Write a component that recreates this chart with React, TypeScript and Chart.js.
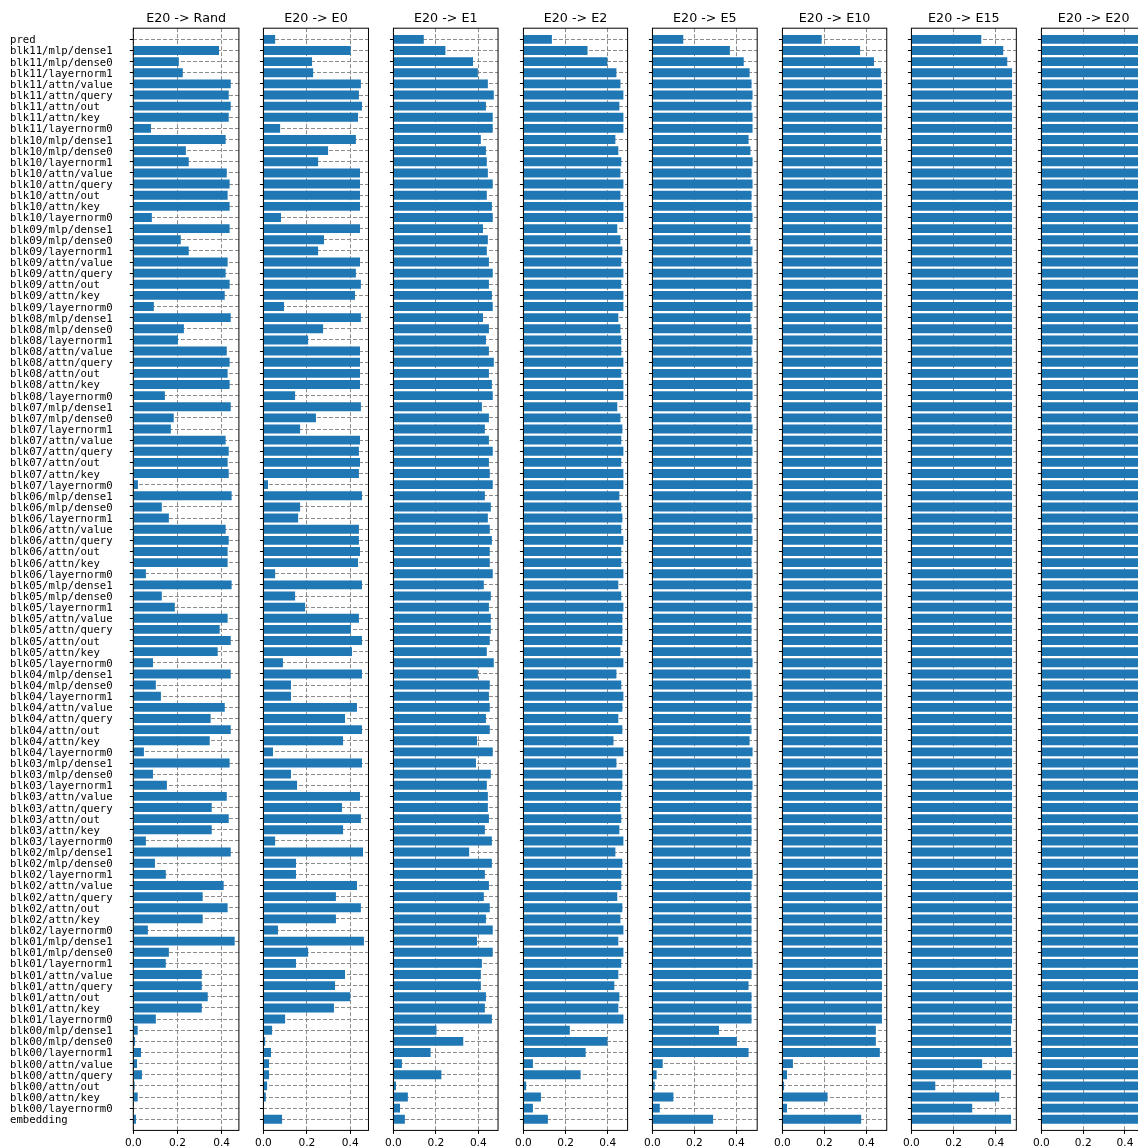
import React, { useEffect, useRef } from "react";
import { Chart, registerables } from "chart.js";

Chart.register(...registerables);

const CATEGORIES = [
  "pred",
  "blk11/mlp/dense1", "blk11/mlp/dense0", "blk11/layernorm1", "blk11/attn/value", "blk11/attn/query", "blk11/attn/out", "blk11/attn/key", "blk11/layernorm0",
  "blk10/mlp/dense1", "blk10/mlp/dense0", "blk10/layernorm1", "blk10/attn/value", "blk10/attn/query", "blk10/attn/out", "blk10/attn/key", "blk10/layernorm0",
  "blk09/mlp/dense1", "blk09/mlp/dense0", "blk09/layernorm1", "blk09/attn/value", "blk09/attn/query", "blk09/attn/out", "blk09/attn/key", "blk09/layernorm0",
  "blk08/mlp/dense1", "blk08/mlp/dense0", "blk08/layernorm1", "blk08/attn/value", "blk08/attn/query", "blk08/attn/out", "blk08/attn/key", "blk08/layernorm0",
  "blk07/mlp/dense1", "blk07/mlp/dense0", "blk07/layernorm1", "blk07/attn/value", "blk07/attn/query", "blk07/attn/out", "blk07/attn/key", "blk07/layernorm0",
  "blk06/mlp/dense1", "blk06/mlp/dense0", "blk06/layernorm1", "blk06/attn/value", "blk06/attn/query", "blk06/attn/out", "blk06/attn/key", "blk06/layernorm0",
  "blk05/mlp/dense1", "blk05/mlp/dense0", "blk05/layernorm1", "blk05/attn/value", "blk05/attn/query", "blk05/attn/out", "blk05/attn/key", "blk05/layernorm0",
  "blk04/mlp/dense1", "blk04/mlp/dense0", "blk04/layernorm1", "blk04/attn/value", "blk04/attn/query", "blk04/attn/out", "blk04/attn/key", "blk04/layernorm0",
  "blk03/mlp/dense1", "blk03/mlp/dense0", "blk03/layernorm1", "blk03/attn/value", "blk03/attn/query", "blk03/attn/out", "blk03/attn/key", "blk03/layernorm0",
  "blk02/mlp/dense1", "blk02/mlp/dense0", "blk02/layernorm1", "blk02/attn/value", "blk02/attn/query", "blk02/attn/out", "blk02/attn/key", "blk02/layernorm0",
  "blk01/mlp/dense1", "blk01/mlp/dense0", "blk01/layernorm1", "blk01/attn/value", "blk01/attn/query", "blk01/attn/out", "blk01/attn/key", "blk01/layernorm0",
  "blk00/mlp/dense1", "blk00/mlp/dense0", "blk00/layernorm1", "blk00/attn/value", "blk00/attn/query", "blk00/attn/out", "blk00/attn/key", "blk00/layernorm0",
  "embedding",
];

const PANEL_TITLES = [
  "E20 -> Rand", "E20 -> E0", "E20 -> E1", "E20 -> E2",
  "E20 -> E5", "E20 -> E10", "E20 -> E15", "E20 -> E20",
];

const RAND = [
  0.0,
  0.388, 0.206, 0.224, 0.441, 0.432, 0.441, 0.432, 0.080,
  0.418, 0.238, 0.251, 0.423, 0.436, 0.427, 0.436, 0.084,
  0.436, 0.215, 0.251, 0.427, 0.418, 0.436, 0.414, 0.093,
  0.441, 0.229, 0.202, 0.423, 0.436, 0.427, 0.436, 0.143,
  0.441, 0.183, 0.170, 0.418, 0.432, 0.427, 0.432, 0.021,
  0.445, 0.129, 0.161, 0.418, 0.432, 0.427, 0.427, 0.057,
  0.445, 0.129, 0.188, 0.427, 0.391, 0.441, 0.382, 0.089,
  0.441, 0.102, 0.125, 0.414, 0.350, 0.441, 0.346, 0.048,
  0.436, 0.089, 0.152, 0.423, 0.355, 0.432, 0.355, 0.057,
  0.441, 0.098, 0.147, 0.409, 0.314, 0.427, 0.314, 0.066,
  0.459, 0.161, 0.147, 0.310, 0.310, 0.337, 0.310, 0.102,
  0.020, 0.008, 0.035, 0.017, 0.039, 0.006, 0.020, 0.000,
  0.012,
];

const E0 = [
  0.054,
  0.402, 0.224, 0.229, 0.449, 0.440, 0.454, 0.436, 0.077,
  0.426, 0.298, 0.252, 0.445, 0.445, 0.445, 0.445, 0.081,
  0.445, 0.279, 0.252, 0.445, 0.426, 0.449, 0.422, 0.095,
  0.449, 0.275, 0.206, 0.445, 0.445, 0.445, 0.445, 0.146,
  0.449, 0.242, 0.169, 0.445, 0.440, 0.445, 0.440, 0.021,
  0.454, 0.169, 0.160, 0.440, 0.440, 0.445, 0.436, 0.054,
  0.454, 0.146, 0.192, 0.440, 0.403, 0.454, 0.408, 0.090,
  0.454, 0.127, 0.127, 0.431, 0.376, 0.454, 0.367, 0.044,
  0.454, 0.127, 0.155, 0.445, 0.362, 0.449, 0.367, 0.054,
  0.459, 0.150, 0.150, 0.431, 0.334, 0.449, 0.334, 0.067,
  0.463, 0.206, 0.150, 0.376, 0.330, 0.400, 0.325, 0.100,
  0.040, 0.008, 0.035, 0.026, 0.026, 0.017, 0.011, 0.000,
  0.086,
];

const E1 = [
  0.143,
  0.245, 0.375, 0.398, 0.445, 0.473, 0.436, 0.468, 0.468,
  0.412, 0.436, 0.440, 0.445, 0.468, 0.440, 0.464, 0.468,
  0.422, 0.445, 0.440, 0.450, 0.468, 0.450, 0.464, 0.468,
  0.422, 0.450, 0.436, 0.450, 0.473, 0.450, 0.464, 0.468,
  0.417, 0.450, 0.431, 0.450, 0.468, 0.450, 0.454, 0.468,
  0.431, 0.459, 0.445, 0.454, 0.464, 0.454, 0.454, 0.468,
  0.426, 0.459, 0.450, 0.459, 0.459, 0.454, 0.440, 0.473,
  0.398, 0.454, 0.450, 0.454, 0.436, 0.454, 0.394, 0.468,
  0.389, 0.459, 0.440, 0.445, 0.445, 0.450, 0.431, 0.464,
  0.357, 0.464, 0.431, 0.450, 0.426, 0.454, 0.436, 0.468,
  0.394, 0.468, 0.417, 0.412, 0.412, 0.436, 0.431, 0.464,
  0.203, 0.329, 0.175, 0.040, 0.226, 0.012, 0.068, 0.031,
  0.054,
];

const E2 = [
  0.135,
  0.304, 0.398, 0.441, 0.460, 0.474, 0.455, 0.474, 0.474,
  0.436, 0.450, 0.464, 0.460, 0.474, 0.460, 0.474, 0.474,
  0.445, 0.460, 0.469, 0.464, 0.474, 0.464, 0.474, 0.474,
  0.450, 0.460, 0.464, 0.464, 0.474, 0.464, 0.474, 0.474,
  0.445, 0.460, 0.469, 0.464, 0.474, 0.464, 0.474, 0.474,
  0.455, 0.464, 0.469, 0.464, 0.474, 0.464, 0.464, 0.474,
  0.450, 0.464, 0.474, 0.469, 0.469, 0.469, 0.460, 0.474,
  0.441, 0.464, 0.474, 0.469, 0.450, 0.469, 0.427, 0.474,
  0.441, 0.469, 0.469, 0.464, 0.460, 0.464, 0.455, 0.474,
  0.436, 0.469, 0.464, 0.464, 0.445, 0.469, 0.460, 0.474,
  0.450, 0.474, 0.464, 0.450, 0.431, 0.455, 0.450, 0.474,
  0.220, 0.398, 0.295, 0.045, 0.271, 0.013, 0.083, 0.045,
  0.116,
];

const E5 = [
  0.147,
  0.369, 0.435, 0.463, 0.472, 0.477, 0.472, 0.477, 0.477,
  0.458, 0.467, 0.477, 0.472, 0.477, 0.472, 0.472, 0.477,
  0.467, 0.467, 0.477, 0.472, 0.477, 0.472, 0.472, 0.477,
  0.467, 0.472, 0.477, 0.472, 0.477, 0.472, 0.477, 0.477,
  0.467, 0.472, 0.477, 0.472, 0.477, 0.472, 0.472, 0.477,
  0.472, 0.472, 0.477, 0.472, 0.477, 0.472, 0.472, 0.477,
  0.472, 0.472, 0.477, 0.472, 0.472, 0.472, 0.472, 0.477,
  0.467, 0.472, 0.477, 0.472, 0.467, 0.472, 0.463, 0.477,
  0.467, 0.472, 0.477, 0.472, 0.472, 0.472, 0.472, 0.472,
  0.467, 0.472, 0.477, 0.472, 0.467, 0.472, 0.472, 0.472,
  0.472, 0.472, 0.477, 0.472, 0.458, 0.472, 0.472, 0.472,
  0.317, 0.402, 0.458, 0.049, 0.020, 0.011, 0.100, 0.035,
  0.289,
];

const E10 = [
  0.187,
  0.370, 0.436, 0.469, 0.474, 0.474, 0.474, 0.474, 0.474,
  0.469, 0.474, 0.474, 0.474, 0.474, 0.474, 0.474, 0.474,
  0.474, 0.474, 0.474, 0.474, 0.474, 0.474, 0.474, 0.474,
  0.474, 0.474, 0.474, 0.474, 0.474, 0.474, 0.474, 0.474,
  0.474, 0.474, 0.474, 0.474, 0.474, 0.474, 0.474, 0.474,
  0.474, 0.474, 0.474, 0.474, 0.474, 0.474, 0.474, 0.474,
  0.474, 0.474, 0.474, 0.474, 0.474, 0.474, 0.474, 0.474,
  0.474, 0.474, 0.474, 0.474, 0.474, 0.474, 0.474, 0.474,
  0.474, 0.474, 0.474, 0.474, 0.474, 0.474, 0.474, 0.474,
  0.474, 0.474, 0.474, 0.474, 0.474, 0.474, 0.474, 0.474,
  0.474, 0.474, 0.474, 0.474, 0.474, 0.474, 0.474, 0.474,
  0.445, 0.445, 0.464, 0.050, 0.022, 0.008, 0.215, 0.022,
  0.375,
];

const E15 = [
  0.331,
  0.435, 0.454, 0.477, 0.477, 0.477, 0.477, 0.477, 0.477,
  0.477, 0.477, 0.477, 0.477, 0.477, 0.477, 0.477, 0.477,
  0.477, 0.477, 0.477, 0.477, 0.477, 0.477, 0.477, 0.477,
  0.477, 0.477, 0.477, 0.477, 0.477, 0.477, 0.477, 0.477,
  0.477, 0.477, 0.477, 0.477, 0.477, 0.477, 0.477, 0.477,
  0.477, 0.477, 0.477, 0.477, 0.477, 0.477, 0.477, 0.477,
  0.477, 0.477, 0.477, 0.477, 0.477, 0.477, 0.477, 0.477,
  0.477, 0.477, 0.477, 0.477, 0.477, 0.477, 0.477, 0.477,
  0.477, 0.477, 0.477, 0.477, 0.477, 0.477, 0.477, 0.477,
  0.477, 0.477, 0.477, 0.477, 0.477, 0.477, 0.477, 0.477,
  0.477, 0.477, 0.477, 0.477, 0.477, 0.477, 0.477, 0.477,
  0.472, 0.472, 0.477, 0.335, 0.472, 0.113, 0.416, 0.288,
  0.472,
];

const E20 = [
  0.477,
  0.477, 0.477, 0.477, 0.477, 0.477, 0.477, 0.477, 0.477,
  0.477, 0.477, 0.477, 0.477, 0.477, 0.477, 0.477, 0.477,
  0.477, 0.477, 0.477, 0.477, 0.477, 0.477, 0.477, 0.477,
  0.477, 0.477, 0.477, 0.477, 0.477, 0.477, 0.477, 0.477,
  0.477, 0.477, 0.477, 0.477, 0.477, 0.477, 0.477, 0.477,
  0.477, 0.477, 0.477, 0.477, 0.477, 0.477, 0.477, 0.477,
  0.477, 0.477, 0.477, 0.477, 0.477, 0.477, 0.477, 0.477,
  0.477, 0.477, 0.477, 0.477, 0.477, 0.477, 0.477, 0.477,
  0.477, 0.477, 0.477, 0.477, 0.477, 0.477, 0.477, 0.477,
  0.477, 0.477, 0.477, 0.477, 0.477, 0.477, 0.477, 0.477,
  0.477, 0.477, 0.477, 0.477, 0.477, 0.477, 0.477, 0.477,
  0.477, 0.477, 0.477, 0.477, 0.477, 0.477, 0.477, 0.477,
  0.477,
];

const SERIES = [RAND, E0, E1, E2, E5, E10, E15, E20];
const X_MAX = [0.478, 0.484, 0.493, 0.494, 0.499, 0.497, 0.497, 0.5];
const X_TICKS = [0.0, 0.2, 0.4];

// layout (pixels)
const FIRST_LEFT = 133.3;
const PANEL_STEP = 129.57;
const PANEL_W = 105.6;
const AREA_TOP = 28.2;
const AREA_BOTTOM = 1130.4;
const CANVAS_H = 1165;
const LABEL_LEFT = 10;

const BAR_COLOR = "#1f77b4";
const GRID_COLOR = "#8c8c8c";

function geometry(index: number) {
  const areaLeft = FIRST_LEFT + PANEL_STEP * index;
  const canvasLeft = index === 0 ? 0 : Math.floor(areaLeft) - 10;
  const areaRight = areaLeft + PANEL_W;
  const canvasW = Math.ceil(areaRight - canvasLeft + 4);
  return { areaLeft, canvasLeft, areaRight, canvasW };
}

function Panel({ index }: { index: number }) {
  const ref = useRef<HTMLCanvasElement | null>(null);
  const g = geometry(index);

  useEffect(() => {
    const canvas = ref.current;
    if (!canvas) return;
    const first = index === 0;
    const padLeft = first ? LABEL_LEFT : 0;
    const yAxisW = g.areaLeft - g.canvasLeft - padLeft;
    const padRight = g.canvasW - (g.areaRight - g.canvasLeft);
    const values = SERIES[index];
    const title = PANEL_TITLES[index];

    const framePlugin = {
      id: "frame" + index,
      afterDraw(chart: any) {
        const { ctx, chartArea } = chart;
        const { left, top, right, bottom } = chartArea;
        ctx.save();
        ctx.strokeStyle = "#000";
        ctx.lineWidth = 1;
        ctx.strokeRect(left, top, right - left, bottom - top);
        ctx.fillStyle = "#000";
        ctx.font = '12.7px "DejaVu Sans"';
        ctx.textAlign = "center";
        ctx.textBaseline = "alphabetic";
        ctx.fillText(title, (left + right) / 2, 21.8);
        ctx.restore();
      },
    };

    const gridOpts = {
      color: GRID_COLOR,
      lineWidth: 1,
      offset: false,
      tickColor: "#000",
      tickLength: 3.5,
      tickWidth: 1,
      tickBorderDash: [],
    };

    const chart = new Chart(canvas, {
      type: "bar",
      data: {
        datasets: [
          {
            data: values.map((v, i) => ({ x: v, y: i })),
            backgroundColor: BAR_COLOR,
            borderWidth: 0,
            barPercentage: 0.8,
            categoryPercentage: 1,
          },
        ],
      },
      options: {
        indexAxis: "y",
        animation: false,
        responsive: false,
        devicePixelRatio: 1,
        layout: { padding: { left: padLeft, right: padRight, top: AREA_TOP, bottom: 0 } },
        plugins: {
          legend: { display: false },
          tooltip: { enabled: false },
          title: { display: false },
        },
        scales: {
          y: {
            type: "linear",
            reverse: true,
            offset: false,
            min: -1,
            max: CATEGORIES.length,
            bounds: "data",
            afterBuildTicks: (s: any) => {
              s.ticks = CATEGORIES.map((_, i) => ({ value: i }));
            },
            afterFit: (s: any) => {
              s.width = yAxisW;
            },
            ticks: {
              display: first,
              autoSkip: false,
              crossAlign: "far",
              padding: 3.5,
              labelOffset: 1.2,
              color: "#000",
              font: { family: '"DejaVu Sans Mono"', size: 10.67 },
              callback: (v: any) => CATEGORIES[v] ?? "",
            },
            grid: gridOpts,
            border: { display: false, dash: [4, 2] },
          },
          x: {
            type: "linear",
            offset: false,
            min: 0,
            max: X_MAX[index],
            bounds: "data",
            afterBuildTicks: (s: any) => {
              s.ticks = X_TICKS.map((v) => ({ value: v }));
            },
            afterFit: (s: any) => {
              s.height = CANVAS_H - AREA_BOTTOM;
            },
            ticks: {
              autoSkip: false,
              maxRotation: 0,
              padding: 3,
              color: "#000",
              font: { family: '"DejaVu Sans"', size: 10.6 },
              callback: (v: any) => Number(v).toFixed(1),
            },
            grid: gridOpts,
            border: { display: false, dash: [4, 2] },
          },
        },
      } as any,
      plugins: [framePlugin],
    });
    return () => chart.destroy();
  }, [index]);

  return (
    <canvas
      ref={ref}
      width={g.canvasW}
      height={CANVAS_H}
      style={{
        position: "absolute",
        left: g.canvasLeft,
        top: 0,
        width: g.canvasW,
        height: CANVAS_H,
      }}
    />
  );
}

export default function App() {
  return (
    <div
      style={{
        position: "fixed",
        left: 0,
        top: 0,
        width: 1138,
        height: 1147,
        overflow: "hidden",
        background: "#fff",
      }}
    >
      {SERIES.map((_, i) => (
        <Panel key={i} index={i} />
      ))}
    </div>
  );
}
